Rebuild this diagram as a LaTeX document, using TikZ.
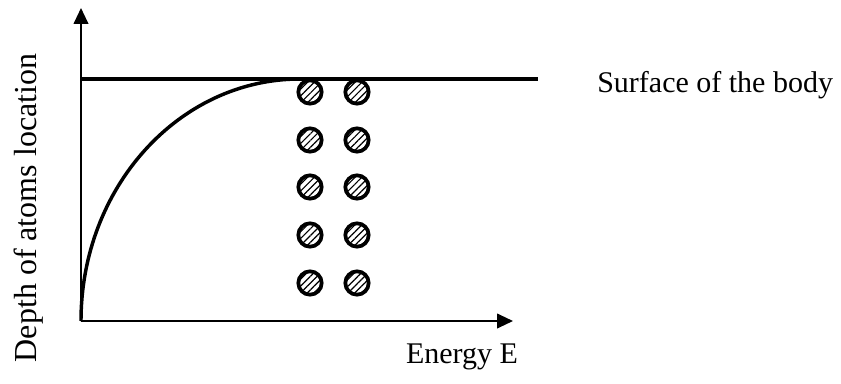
\documentclass[tikz,border=0pt]{standalone}
\usepackage{fontspec}
\setmainfont{Liberation Serif}
\usetikzlibrary{arrows.meta, positioning, patterns.meta}
\tikzset{
  axisline/.style={
    -{Triangle[length=12pt,width=11pt]}, line width=1.5pt
  },
  surfline/.style={line width=2.4pt},
  depthcurve/.style={line width=2.6pt},
  atom/.style={
    circle, draw, line width=2.8pt, minimum size=17.5pt,
    inner sep=0pt,
    pattern={Lines[angle=45, distance=3.6pt, line width=0.9pt]}
  },
  plotlabel/.style={
    font=\fontsize{22.5}{27}\selectfont, inner sep=0pt
  },
}
\begin{document}
\begin{tikzpicture}[x=0.75pt, y=0.75pt]
  \useasboundingbox (0,0) rectangle (841,383);
  \coordinate (origin) at (81,62);
  \coordinate (ytop) at (81,375);
  \coordinate (xend) at (513,62);
  \coordinate (surfleft) at (81,304);
  \coordinate (surfright) at (538,304);

  \draw[axisline] (origin) -- (ytop);
  \draw[axisline] (origin) -- (xend);
  \draw[surfline] (surfleft) -- (surfright);
  \draw[depthcurve] (origin) arc[start angle=180, end angle=90, x radius=219, y radius=242];

  \foreach \row/\ypos in {1/291, 2/243, 3/196, 4/148, 5/100} {
    \node[atom] (atomL\row) at (310,\ypos) {};
    \node[atom] (atomR\row) at (357,\ypos) {};
  }

  \node[plotlabel, anchor=base west] (surflabel) at (597,291) {Surface of the body};
  \node[plotlabel, anchor=base] (elabel) at (462,20) {Energy E};
  \node[plotlabel, font=\fontsize{24}{29}\selectfont, rotate=90, anchor=base] (dlabel) at (36,175) {Depth of atoms location};
\end{tikzpicture}
\end{document}
